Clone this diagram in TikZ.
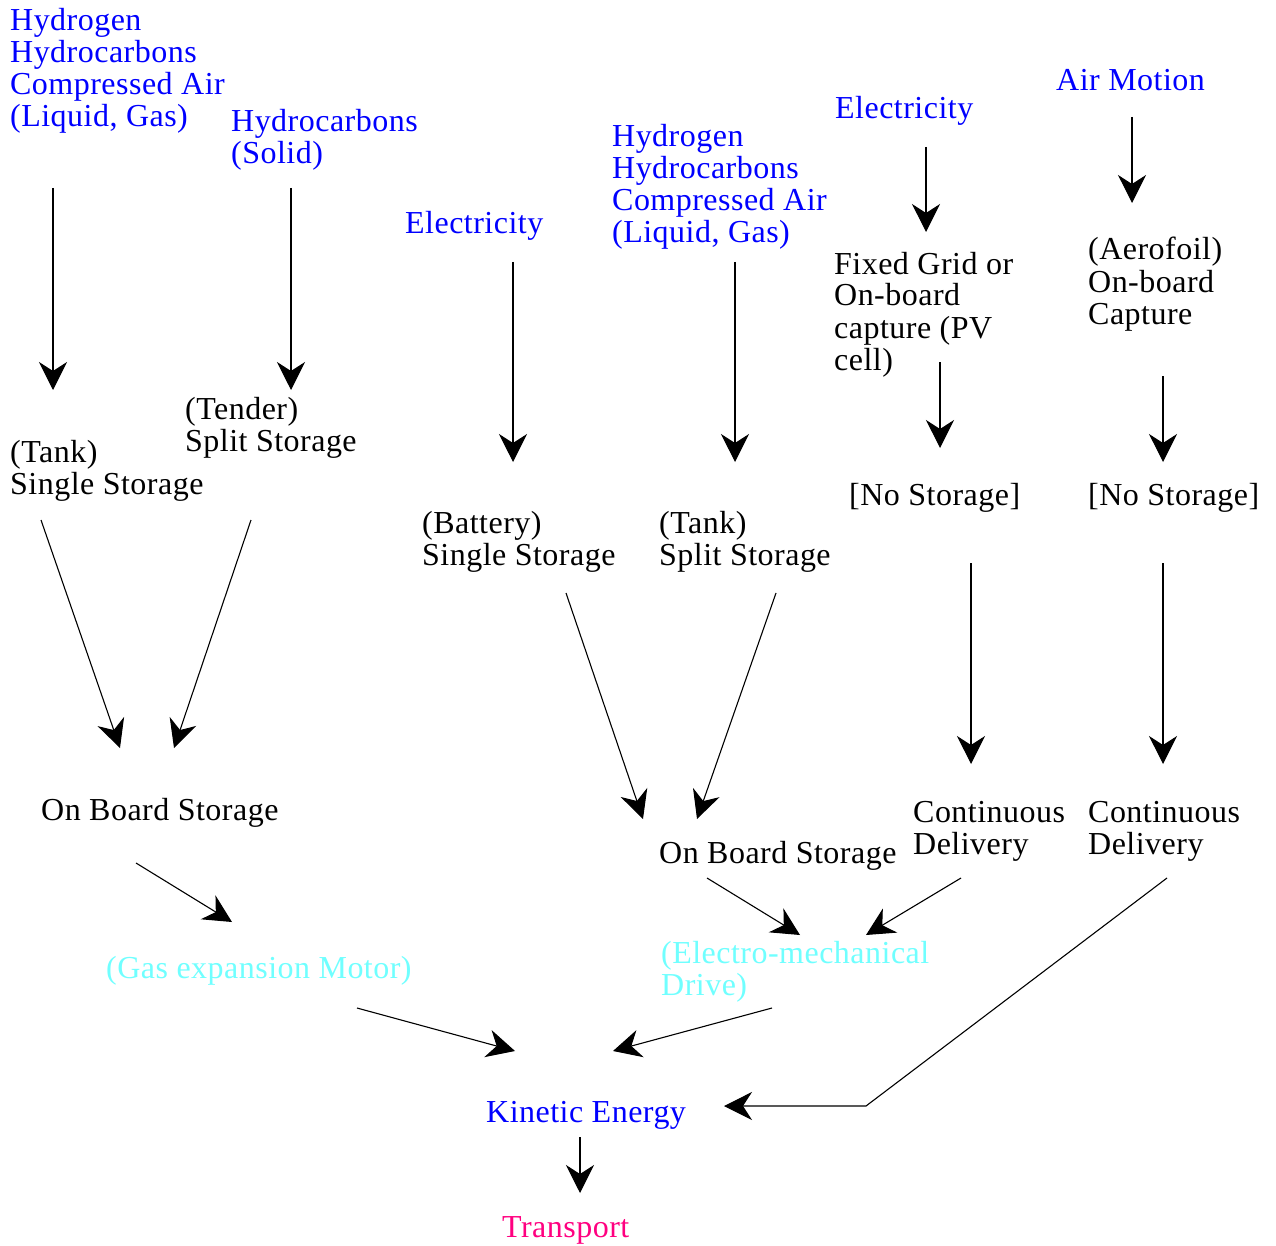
\documentclass[tikz,border=0pt]{standalone}
\usepackage{fontspec}
\setmainfont{Liberation Serif}[LetterSpace=1.5]
\usepackage{xcolor}
\usepackage{tikz}
\usetikzlibrary{arrows.meta,positioning}

\definecolor{srcblue}{RGB}{0,0,255}
\definecolor{drivecyan}{RGB}{112,255,255}
\definecolor{transpink}{RGB}{255,0,128}

\begin{document}
\begin{tikzpicture}[x=1pt, y=-1pt]
    \tikzstyle{txt} = [anchor=base west, inner sep=0pt, align=left, font=\fontsize{32}{32}\selectfont]
    \tikzstyle{source} = [txt, text=srcblue]
    \tikzstyle{store} = [txt, text=black]
    \tikzstyle{drive} = [txt, text=drivecyan]
    \tikzstyle{arr} = [-{Stealth[length=28pt,width=28pt,inset=9pt]}, line width=1.1pt]
    \useasboundingbox (0,0) rectangle (1276,1246);

    % Nodes (placed by the baseline of their last line)
    \node [source] (fuelA) at (10,127) {Hydrogen\\Hydrocarbons\\Compressed Air\\(Liquid, Gas)};
    \node [source] (solidB) at (231,164) {Hydrocarbons\\(Solid)};
    \node [source] (elecC) at (405,234) {Electricity};
    \node [source] (fuelD) at (612,243) {Hydrogen\\Hydrocarbons\\Compressed Air\\(Liquid, Gas)};
    \node [source] (elecE) at (835,119) {Electricity};
    \node [source] (airF) at (1056,91) {Air Motion};

    \node [store] (tankA) at (10,494) {(Tank)\\Single Storage};
    \node [store] (tenderB) at (185,451) {(Tender)\\Split Storage};
    \node [store] (batteryC) at (422,565) {(Battery)\\Single Storage};
    \node [store] (tankD) at (659,565) {(Tank)\\Split Storage};
    \node [store] (gridE) at (834,370) {Fixed Grid or\\On-board\\capture (PV\\cell)};
    \node [store] (aerofoilF) at (1088,324) {(Aerofoil)\\On-board\\Capture};
    \node [store] (nostoreE) at (849,505) {[No Storage]};
    \node [store] (nostoreF) at (1088,505) {[No Storage]};

    \node [store] (boardL) at (41,820) {On Board Storage};
    \node [store] (boardR) at (659,863) {On Board Storage};
    \node [store] (contE) at (913,854) {Continuous\\Delivery};
    \node [store] (contF) at (1088,854) {Continuous\\Delivery};

    \node [drive] (gasmotor) at (106,978) {(Gas expansion Motor)};
    \node [drive] (emdrive) at (661,995) {(Electro-mechanical\\Drive)};
    \node [source] (kinetic) at (486,1122) {Kinetic Energy};
    \node [txt, text=transpink] (transport) at (502,1237) {Transport};

    % Arrow ends
    \coordinate (a1) at (53,188);    \coordinate (a2) at (53,390);
    \coordinate (b1) at (291,188);   \coordinate (b2) at (291,390);
    \coordinate (c1) at (513,262);   \coordinate (c2) at (513,462);
    \coordinate (d1) at (735,262);   \coordinate (d2) at (735,462);
    \coordinate (e1) at (926,147);   \coordinate (e2) at (926,232);
    \coordinate (f1) at (1132,117);  \coordinate (f2) at (1132,203);
    \coordinate (g1) at (940,362);   \coordinate (g2) at (940,448);
    \coordinate (h1) at (1163,376);  \coordinate (h2) at (1163,462);
    \coordinate (i1) at (41,520);    \coordinate (i2) at (120,748);
    \coordinate (j1) at (251,520);   \coordinate (j2) at (174,748);
    \coordinate (k1) at (566,593);   \coordinate (k2) at (643,819);
    \coordinate (l1) at (776,593);   \coordinate (l2) at (697,819);
    \coordinate (m1) at (971,563);   \coordinate (m2) at (971,764);
    \coordinate (n1) at (1163,563);  \coordinate (n2) at (1163,764);
    \coordinate (o1) at (136,863);   \coordinate (o2) at (232,922);
    \coordinate (p1) at (707,878);   \coordinate (p2) at (800,935);
    \coordinate (q1) at (961,878);   \coordinate (q2) at (866,935);
    \coordinate (r1) at (357,1008);  \coordinate (r2) at (515,1051);
    \coordinate (s1) at (772,1008);  \coordinate (s2) at (613,1051);
    \coordinate (t1) at (1167,878);  \coordinate (t2) at (866,1106);
    \coordinate (t3) at (724,1106);
    \coordinate (u1) at (580,1137);  \coordinate (u2) at (580,1193);

    % Paths
    \draw [arr] (a1) -- (a2);
    \draw [arr] (b1) -- (b2);
    \draw [arr] (c1) -- (c2);
    \draw [arr] (d1) -- (d2);
    \draw [arr] (e1) -- (e2);
    \draw [arr] (f1) -- (f2);
    \draw [arr] (g1) -- (g2);
    \draw [arr] (h1) -- (h2);
    \draw [arr] (i1) -- (i2);
    \draw [arr] (j1) -- (j2);
    \draw [arr] (k1) -- (k2);
    \draw [arr] (l1) -- (l2);
    \draw [arr] (m1) -- (m2);
    \draw [arr] (n1) -- (n2);
    \draw [arr] (o1) -- (o2);
    \draw [arr] (p1) -- (p2);
    \draw [arr] (q1) -- (q2);
    \draw [arr] (r1) -- (r2);
    \draw [arr] (s1) -- (s2);
    \draw [arr] (t1) -- (t2) -- (t3);
    \draw [arr] (u1) -- (u2);
\end{tikzpicture}
\end{document}
